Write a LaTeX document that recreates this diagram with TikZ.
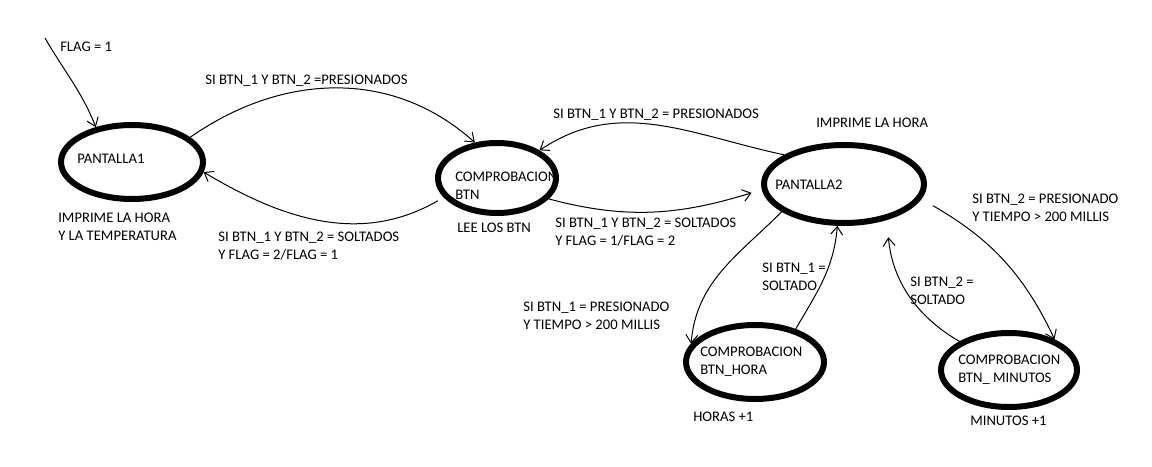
\documentclass[tikz,border=0pt]{standalone}
\usepackage{fontspec}
\setmainfont{Carlito}
\usetikzlibrary{arrows.meta,shapes.geometric}
\begin{document}
\begin{tikzpicture}[x=0.75pt,y=0.75pt,
 state/.style={draw,ellipse,line width=4.5pt,inner sep=0pt},
 lbl/.style={anchor=north west,inner sep=0pt,align=left,font=\fontsize{11}{13.5}\selectfont},
 conn/.style={line width=0.75pt,-{Straight Barb[length=6pt,width=9pt]}}]
\useasboundingbox (0,0) rectangle (1152,-467);
% texts
\node[lbl] (tflag) at (60,-42) {FLAG = 1};
\node[lbl] (tp1) at (77,-154) {PANTALLA1};
\node[lbl] (tp1d) at (58,-213) {IMPRIME LA HORA\\Y LA TEMPERATURA};
\node[lbl] (t12) at (205,-75) {SI BTN\_1 Y BTN\_2 =PRESIONADOS};
\node[lbl] (t21) at (218,-232) {SI BTN\_1 Y BTN\_2 = SOLTADOS\\Y FLAG = 2/FLAG = 1};
\node[lbl] (tc) at (455,-172) {COMPROBACION\\BTN};
\node[lbl] (tcd) at (457,-223) {LEE LOS BTN};
\node[lbl] (t32) at (553,-109) {SI BTN\_1 Y BTN\_2 = PRESIONADOS};
\node[lbl] (tp2d) at (816,-118) {IMPRIME LA HORA};
\node[lbl] (tp2) at (775,-180) {PANTALLA2};
\node[lbl] (t23) at (555,-218) {SI BTN\_1 Y BTN\_2 = SOLTADOS\\Y FLAG = 1/FLAG = 2};
\node[lbl] (t34) at (972,-194) {SI BTN\_2 = PRESIONADO\\Y TIEMPO > 200 MILLIS};
\node[lbl] (t43) at (910,-277) {SI BTN\_2 =\\SOLTADO};
\node[lbl] (t35) at (762,-263) {SI BTN\_1 =\\SOLTADO};
\node[lbl] (t53) at (523,-302) {SI BTN\_1 = PRESIONADO\\Y TIEMPO > 200 MILLIS};
\node[lbl] (th) at (700,-347) {COMPROBACION\\BTN\_HORA};
\node[lbl] (thd) at (693,-412) {HORAS +1};
\node[lbl] (tm) at (958,-355) {COMPROBACION\\BTN\_ MINUTOS};
\node[lbl] (tmd) at (970,-416) {MINUTOS +1};
% states
\node[state,minimum width=106.5pt,minimum height=55.5pt] (p1) at (132,-162) {};
\node[state,minimum width=88.5pt,minimum height=52.5pt] (c) at (497,-178) {};
\node[state,minimum width=120pt,minimum height=58.5pt] (p2) at (844,-184) {};
\node[state,minimum width=103.5pt,minimum height=55.5pt] (h) at (755,-362) {};
\node[state,minimum width=102pt,minimum height=55.5pt] (m) at (1009,-370) {};
% connectors
\coordinate (start) at (45,-38);
\draw[conn] (start) to[out=-60,in=112] (p1.136);
\draw[conn] (p1.23) to[out=35,in=138] (c.122);
\draw[conn,shorten <=5pt] (c.200) to[out=210,in=-31] (p1.-8);
\draw[conn] (p2.154) to[out=168,in=34] (c.33);
\draw[conn,shorten >=8pt] (c.-22) to[out=-15,in=197] (p2.184);
\draw[conn] (p2.204) to[out=225,in=85] (h.164);
\draw[conn] (h.39) to[out=60,in=-95] (p2.261);
\draw[conn,shorten <=10pt] (p2.-11) to[out=-30,in=115] (m.34.5);
\draw[conn,shorten >=13pt] (m.150) to[out=150,in=-85] (p2.-40);
\end{tikzpicture}
\end{document}
